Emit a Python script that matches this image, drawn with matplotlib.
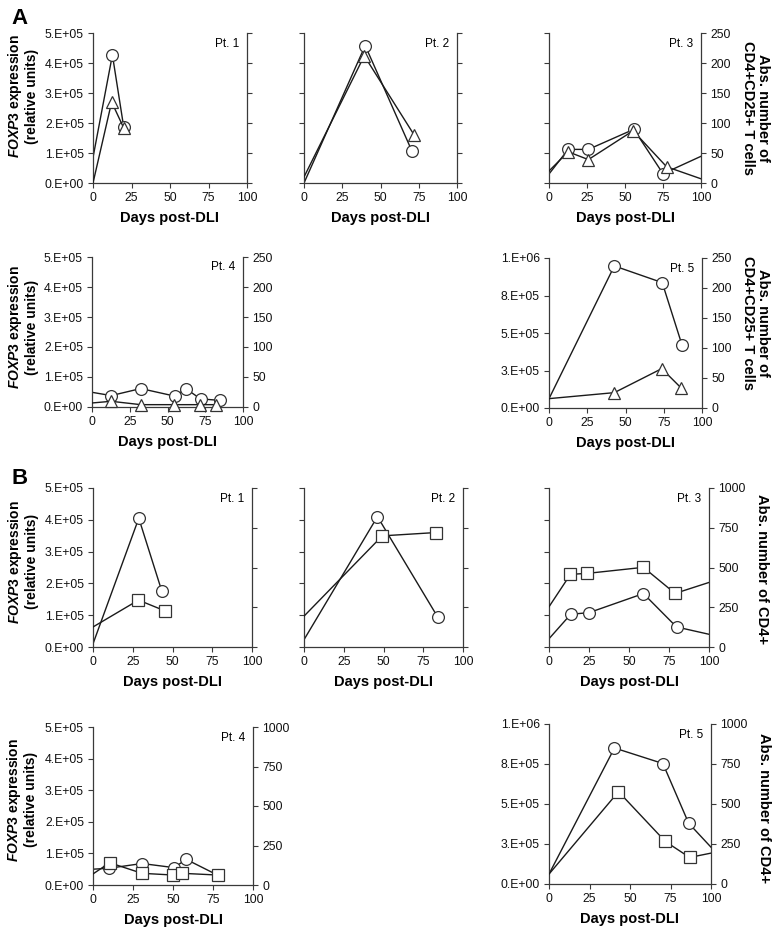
import numpy as np
import matplotlib.pyplot as plt

plt.rcParams['font.family'] = ['Liberation Sans', 'DejaVu Sans']
plt.rcParams['mathtext.fontset'] = 'custom'
plt.rcParams['mathtext.it'] = 'Liberation Sans:italic:bold'
plt.rcParams['mathtext.rm'] = 'Liberation Sans:bold'

W, H = 775, 940

# ---- data (days post-DLI; FOXP3 = circles on left axis, cells = right axis)
x_ticks = [0, 25, 50, 75, 100]
foxp3_ticks_small = [0, 1e5, 2e5, 3e5, 4e5, 5e5]
foxp3_labels_small = ['0.E+00', '1.E+05', '2.E+05', '3.E+05', '4.E+05', '5.E+05']
foxp3_ticks_big = [0, 2.5e5, 5e5, 7.5e5, 1e6]
foxp3_labels_big = ['0.E+00', '3.E+05', '5.E+05', '8.E+05', '1.E+06']
cd25_ticks = [0, 50, 100, 150, 200, 250]
cd4_ticks = [0, 250, 500, 750, 1000]

# A: CD4+CD25+ T cells (triangles)
a1_days_f = [0, 12.6, 19.9]
a1_foxp3 = [0.85e5, 4.27e5, 1.88e5]
a1_days_c = [0, 12.1, 19.9]
a1_cells = [0, 135, 92]

a2_days_f = [0, 40, 70.5]
a2_foxp3 = [0, 4.58e5, 1.07e5]
a2_days_c = [0, 39.4, 72]
a2_cells = [10, 212, 80]

a3_days_f = [0, 12.6, 25.9, 55.8, 75, 100]
a3_foxp3 = [0.3e5, 1.12e5, 1.12e5, 1.79e5, 0.31e5, 0.89e5]
a3_days_c = [0, 12.6, 25.9, 55.3, 77.4, 100]
a3_cells = [20, 52, 39, 87, 27, 7]

a4_days_f = [0, 12.7, 32.3, 55, 62, 71.9, 85]
a4_foxp3 = [0.49e5, 0.38e5, 0.615e5, 0.36e5, 0.615e5, 0.27e5, 0.22e5]
a4_days_c = [0, 12.7, 32.3, 54.3, 71.4, 82]
a4_cells = [6.7, 9.5, 3.9, 3.9, 3.9, 3.9]

a5_days_f = [0, 42.7, 74, 87]
a5_foxp3 = [0.62e5, 9.47e5, 8.36e5, 4.18e5]
a5_days_c = [0, 42.7, 73.7, 86.4]
a5_cells = [15.6, 25.6, 65.6, 33.3]

# B: CD4+ cells (squares)
b1_days_f = [0, 28.8, 43.2]
b1_foxp3 = [0.1e5, 4.05e5, 1.77e5]
b1_days_c = [0, 28.6, 45.3]
b1_cells = [126, 295, 227]

b2_days_f = [0, 46.2, 84]
b2_foxp3 = [0.23e5, 4.1e5, 0.95e5]
b2_days_c = [0, 49.2, 83.2]
b2_cells = [194, 699, 720]

b3_days_f = [0, 13.6, 25, 59, 79.7, 100]
b3_foxp3 = [0.26e5, 1.03e5, 1.08e5, 1.68e5, 0.63e5, 0.4e5]
b3_days_c = [0, 13.4, 23.9, 59, 78.8, 100]
b3_cells = [253, 457, 463, 501, 337, 406]

b4_days_f = [0, 10, 30.6, 50.6, 58.3, 78]
b4_foxp3 = [0.5e5, 0.53e5, 0.68e5, 0.55e5, 0.81e5, 0.31e5]
b4_days_c = [0, 10.4, 30.6, 50.2, 55.6, 78]
b4_cells = [70, 141, 74, 63, 74, 63]

b5_days_f = [0, 40.4, 70.3, 86.2, 100]
b5_foxp3 = [0.62e5, 8.5e5, 7.53e5, 3.8e5, 2.3e5]
b5_days_c = [0, 42.9, 71.8, 86.8, 100]
b5_cells = [62, 577, 266, 166, 193]

LINE = '#1a1a1a'
SPINE = '#3a3a3a'
MEC = '#333333'


def rect(l, t, r, b):
    return [l / W, 1 - b / H, (r - l) / W, (b - t) / H]


def series(ax, days, vals, marker):
    days = np.asarray(days)
    vals = np.asarray(vals)
    ax.plot(days, vals, color=LINE, lw=1.0, zorder=2)
    m = (days > 0) & (days < 100)
    ax.plot(days[m], vals[m], ls='none', marker=marker, ms=8.5, mfc='white',
            mec=MEC, mew=0.9, clip_on=False, zorder=3)


def panel(fig, r, pt, df, f, dc, c, marker, big, cell_ticks,
          left_lab, right_lab, ylab=None, rlab=None):
    ax = fig.add_axes(rect(*r))
    ax2 = ax.twinx()
    for s in ['top', 'right']:
        ax.spines[s].set_visible(False)
    for s in ['top', 'left', 'bottom']:
        ax2.spines[s].set_visible(False)
    for a in (ax, ax2):
        for s in a.spines.values():
            s.set_color(SPINE)
            s.set_linewidth(0.9)
        a.tick_params(direction='out', length=3.5, width=0.8, color=SPINE,
                      labelsize=8.8, pad=3, labelcolor='#111111')

    series(ax, df, f, 'o')
    series(ax2, dc, c, marker)

    ax.set_xlim(0, 100)
    ax.set_xticks(x_ticks)
    if big:
        ax.set_ylim(0, 1e6)
        ax.set_yticks(foxp3_ticks_big)
        ax.set_yticklabels(foxp3_labels_big if left_lab else [])
    else:
        ax.set_ylim(0, 5e5)
        ax.set_yticks(foxp3_ticks_small)
        ax.set_yticklabels(foxp3_labels_small if left_lab else [])
    ax2.set_ylim(0, cell_ticks[-1])
    ax2.set_yticks(cell_ticks)
    ax2.set_yticklabels([str(t) for t in cell_ticks] if right_lab else [])

    ax.set_xlabel('Days post-DLI', fontsize=10.5, fontweight='bold', labelpad=5)
    ax.text(0.95, 0.97, pt, transform=ax.transAxes, ha='right', va='top',
            fontsize=8.5)
    if ylab is not None:
        ax.text(ylab[0], ylab[1],
                r'$\mathit{FOXP3}$ expression' + '\n(relative units)',
                transform=ax.transAxes, rotation=90, ha='center', va='center',
                fontsize=10, fontweight='bold', linespacing=1.1)
    if rlab is not None:
        ax.text(rlab[0], rlab[1], rlab[2], transform=ax.transAxes,
                rotation=270, ha='center', va='center', fontsize=10.5,
                fontweight='bold', linespacing=1.1)
    return ax


fig = plt.figure(figsize=(W / 100, H / 100), dpi=100)

lab_a = 'Abs. number of\nCD4+CD25+ T cells'
lab_b = 'Abs. number of CD4+'

panel(fig, (93, 33, 247, 183), 'Pt. 1', a1_days_f, a1_foxp3, a1_days_c, a1_cells,
      '^', False, cd25_ticks, True, False, ylab=(-0.46, 0.58))
panel(fig, (304, 33, 457, 183), 'Pt. 2', a2_days_f, a2_foxp3, a2_days_c, a2_cells,
      '^', False, cd25_ticks, False, False)
panel(fig, (549, 33, 701, 183), 'Pt. 3', a3_days_f, a3_foxp3, a3_days_c, a3_cells,
      '^', False, cd25_ticks, False, True, rlab=(1.36, 0.5, lab_a))
panel(fig, (92, 257, 243, 407), 'Pt. 4', a4_days_f, a4_foxp3, a4_days_c, a4_cells,
      '^', False, cd25_ticks, True, True, ylab=(-0.46, 0.53))
panel(fig, (549, 258, 702, 408), 'Pt. 5', a5_days_f, a5_foxp3, a5_days_c, a5_cells,
      '^', True, cd25_ticks, True, True, rlab=(1.35, 0.57, lab_a))

panel(fig, (93, 488, 252, 647), 'Pt. 1', b1_days_f, b1_foxp3, b1_days_c, b1_cells,
      's', False, cd4_ticks, True, False, ylab=(-0.445, 0.535))
panel(fig, (304, 488, 463, 647), 'Pt. 2', b2_days_f, b2_foxp3, b2_days_c, b2_cells,
      's', False, cd4_ticks, False, False)
panel(fig, (549, 488, 709, 647), 'Pt. 3', b3_days_f, b3_foxp3, b3_days_c, b3_cells,
      's', False, cd4_ticks, False, True, rlab=(1.33, 0.49, lab_b))
panel(fig, (93, 727, 253, 885), 'Pt. 4', b4_days_f, b4_foxp3, b4_days_c, b4_cells,
      's', False, cd4_ticks, True, True, ylab=(-0.445, 0.54))
panel(fig, (549, 724, 711, 884), 'Pt. 5', b5_days_f, b5_foxp3, b5_days_c, b5_cells,
      's', True, cd4_ticks, True, True, rlab=(1.33, 0.475, lab_b))

fig.text(20 / W, 1 - 18 / H, 'A', fontsize=16, fontweight='bold',
         ha='center', va='center')
fig.text(20 / W, 1 - 478 / H, 'B', fontsize=16, fontweight='bold',
         ha='center', va='center')

fig.savefig('out.png', dpi=100, facecolor='white')
